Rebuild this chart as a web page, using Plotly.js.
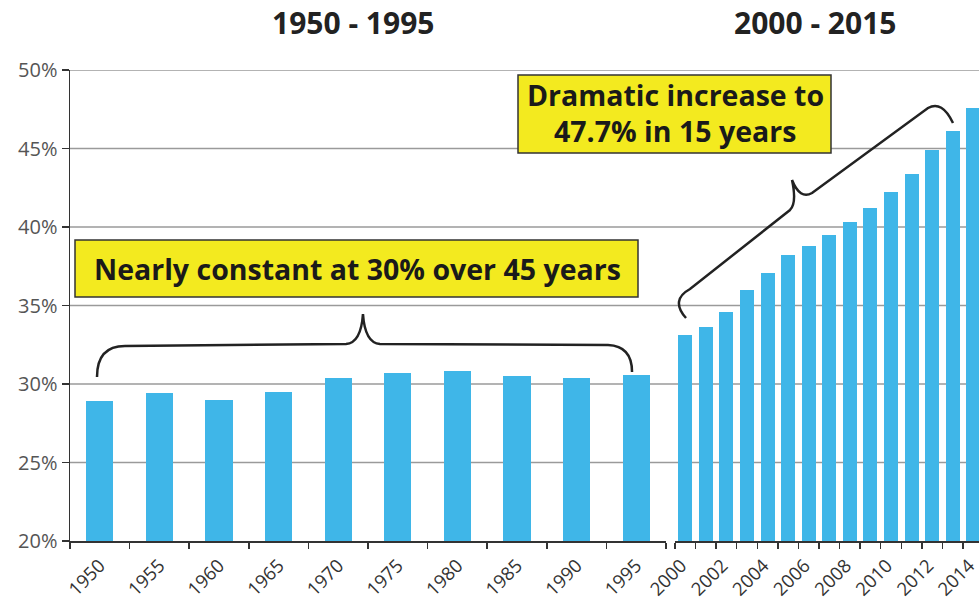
<!DOCTYPE html>
<html>
<head>
<meta charset="utf-8">
<script src="https://cdn.plot.ly/plotly-3.0.1.min.js"></script>
<style>html,body{margin:0;padding:0;background:#fff;}#chart{width:979px;height:603px;}</style>
</head>
<body>
<div id="chart"></div>
<script>
// ---- data ----
const yearsEarly = [1950, 1955, 1960, 1965, 1970, 1975, 1980, 1985, 1990, 1995];
const shareEarly = [28.9, 29.4, 29.0, 29.5, 30.4, 30.7, 30.8, 30.5, 30.4, 30.6];
const yearsLate = [2000, 2001, 2002, 2003, 2004, 2005, 2006, 2007, 2008, 2009, 2010, 2011, 2012, 2013, 2014];
const shareLate = [33.1, 33.6, 34.6, 36.0, 37.1, 38.2, 38.8, 39.5, 40.3, 41.2, 42.2, 43.4, 44.9, 46.1, 47.6];
const yTicks = [20, 25, 30, 35, 40, 45, 50];
const lateTickYears = [2000, 2002, 2004, 2006, 2008, 2010, 2012, 2014];
const periodTitles = ['1950 - 1995', '2000 - 2015'];
const calloutEarly = 'Nearly constant at 30% over 45 years';
const calloutLate = ['Dramatic increase to', '47.7% in 15 years'];

// ---- layout helpers (pixel -> paper) ----
const W = 979, H = 603, L = 70, R = 0, T = 70, B = 62;
const pw = W - L - R, ph = H - T - B;
const px = x => (x - L) / pw;
const py = y => (H - B - y) / ph;
function path(cmds) {
  return cmds.map(c => c[0] + ' ' + c.slice(1).reduce((a, v, i) => {
    if (i % 2 === 0) a.push(px(v).toFixed(4)); else a[a.length - 1] += ',' + py(v).toFixed(4);
    return a;
  }, []).join(' ')).join(' ');
}

const barColor = '#3fb6e8';
const font = 'Open Sans, Noto Sans, sans-serif';

const traces = [
  {type: 'bar', x: yearsEarly, y: shareEarly, xaxis: 'x', yaxis: 'y', width: 2.27,
   marker: {color: barColor}, hoverinfo: 'x+y'},
  {type: 'bar', x: yearsLate, y: shareLate, xaxis: 'x2', yaxis: 'y', width: 0.68,
   marker: {color: barColor}, hoverinfo: 'x+y'}
];

const xCommon = {
  showline: true, linecolor: '#333', linewidth: 1.5, showgrid: false, zeroline: false,
  ticks: '', tickangle: -45, tickfont: {family: font, size: 18.5, color: '#333'},
  ticklabeloverflow: 'allow', ticklabelstandoff: 5, anchor: 'y'
};

const shapes = [];
yTicks.slice(1).forEach(v => shapes.push({
  type: 'line', xref: 'paper', yref: 'y', x0: 0, x1: 1, y0: v, y1: v,
  line: {color: '#9a9a9a', width: 1.3}, layer: 'below'
}));
// callout boxes
shapes.push({type: 'rect', xref: 'paper', yref: 'paper', x0: px(75), x1: px(638), y0: py(297), y1: py(240),
  fillcolor: '#f3ea1f', line: {color: '#333', width: 1.5}});
shapes.push({type: 'rect', xref: 'paper', yref: 'paper', x0: px(518), x1: px(831), y0: py(153), y1: py(75),
  fillcolor: '#f3ea1f', line: {color: '#333', width: 1.5}});
// braces
shapes.push({type: 'path', xref: 'paper', yref: 'paper', line: {color: '#222', width: 2.5},
  path: path([['M', 97, 377], ['Q', 97, 346, 125, 346], ['L', 346, 344], ['Q', 361, 343, 363, 314],
              ['Q', 365, 343, 380, 344], ['L', 608, 345], ['Q', 632, 346, 632, 372]])});
shapes.push({type: 'path', xref: 'paper', yref: 'paper', line: {color: '#222', width: 2.5},
  path: path([['M', 686, 318], ['Q', 670, 300, 690, 289], ['L', 790, 210], ['Q', 797, 203, 792, 180],
              ['Q', 800, 200, 812, 193], ['L', 928, 108], ['Q', 942, 100, 953, 123]])});

const ann = (text, x, y, size, color) => ({
  text: '<b>' + text + '</b>', xref: 'paper', yref: 'paper', x: px(x), y: py(y),
  xanchor: 'center', yanchor: 'middle', showarrow: false,
  font: {family: font, size: size, color: color}
});
const annotations = [
  ann(periodTitles[0], 353, 22, 30, '#222'),
  ann(periodTitles[1], 815, 22, 30, '#222'),
  ann(calloutEarly, 357, 269, 28.5, '#1a1a1a'),
  ann(calloutLate[0], 675, 95, 28.5, '#1a1a1a'),
  ann(calloutLate[1], 675, 131, 28.5, '#1a1a1a')
];

const layout = {
  width: W, height: H,
  margin: {l: L, r: R, t: T, b: B, pad: 0},
  paper_bgcolor: '#fff', plot_bgcolor: 'rgba(0,0,0,0)',
  showlegend: false, bargap: 0,
  font: {family: font},
  xaxis: Object.assign({}, xCommon, {
    domain: [0, px(666)], range: [1947.5, 1997.5],
    tickmode: 'array', tickvals: yearsEarly, ticktext: yearsEarly.map(String),
    minor: {ticks: 'outside', ticklen: 6, tickcolor: '#333', tickwidth: 1.5, tickmode: 'linear', tick0: 1947.5, dtick: 5, showgrid: false}
  }),
  xaxis2: Object.assign({}, xCommon, {
    domain: [px(675), 1], range: [1999.5, 1999.5 + (979 - 675) / 20.57],
    tickmode: 'array', tickvals: lateTickYears, ticktext: lateTickYears.map(String),
    ticklabelshift: -4,
    minor: {ticks: 'outside', ticklen: 6, tickcolor: '#333', tickwidth: 1.5, tickmode: 'linear', tick0: 1999.5, dtick: 1, showgrid: false}
  }),
  yaxis: {
    range: [20, 50], tickmode: 'array', tickvals: yTicks, ticktext: yTicks.map(v => v + '%'),
    showline: true, linecolor: '#333', linewidth: 1.5, ticks: 'outside', ticklen: 7,
    tickcolor: '#333', tickwidth: 1.5, showgrid: false, zeroline: false,
    tickfont: {family: font, size: 20, color: '#555'}, anchor: 'x'
  },
  shapes: shapes,
  annotations: annotations
};

Plotly.newPlot('chart', traces, layout, {displayModeBar: false, staticPlot: true});
</script>
</body>
</html>
